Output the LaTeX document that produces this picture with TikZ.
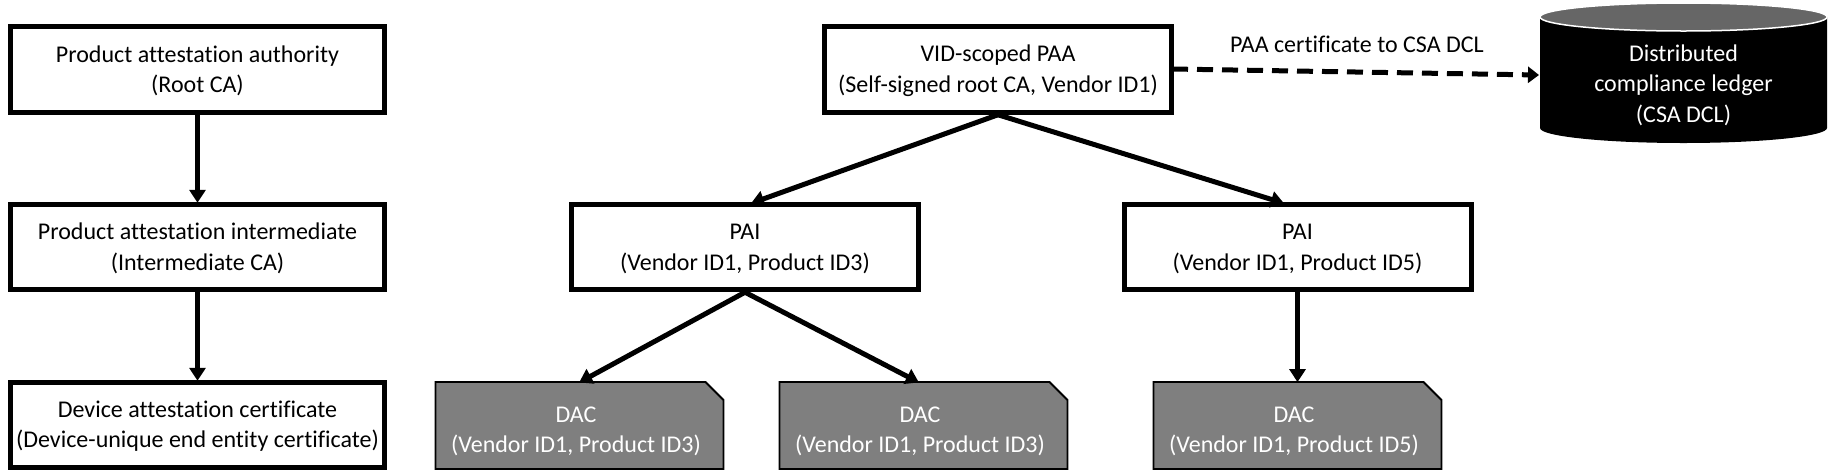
\documentclass[tikz,border=0pt]{standalone}
\usepackage{fontspec}
\setmainfont[Ligatures=NoCommon]{Carlito}
\usetikzlibrary{arrows.meta,shapes.misc}
\newcommand{\certup}{\rule{0pt}{19pt}}
\newcommand{\dacup}{\rule{0pt}{27pt}}
\newcommand{\dacpad}{\rule{7pt}{0pt}}
\tikzset{
  every node/.style={font=\fontsize{24}{30.5}\selectfont,align=center,inner sep=0pt},
  certbox/.style={draw=black,fill=white,line width=5pt,rectangle,minimum height=85.5pt},
  dacbox/.style={draw=black,fill=dacgray,line width=1.8pt,text=white,chamfered rectangle,
    chamfered rectangle corners=north east,chamfered rectangle sep=9pt,
    minimum width=288pt,minimum height=87pt},
  link/.style={line width=5pt,-{Triangle[length=13pt,width=16pt]},shorten >=-1pt},
  dashlink/.style={line width=5pt,dash pattern=on 16pt off 9pt,-{Triangle[length=11pt,width=16pt]}}
}
\definecolor{dacgray}{HTML}{7F7F7F}
\definecolor{topgray}{HTML}{666666}
\begin{document}
\begin{tikzpicture}[x=1pt,y=-1pt]
\useasboundingbox (0,0) rectangle (1828,472);
\node[certbox,minimum width=374pt] (pa) at (197.5,69.5) {\certup Product attestation authority\\(Root CA)};
\node[certbox,minimum width=374pt] (pi) at (197.5,247) {\certup Product attestation intermediate\\(Intermediate CA)};
\node[certbox,minimum width=374pt] (da) at (197.5,425) {\certup Device attestation certificate\\(Device-unique end entity certificate)};
\node[certbox,minimum width=347pt] (vid) at (998,69.5) {\certup VID-scoped PAA\\(Self-signed root CA, Vendor ID1)};
\node[certbox,minimum width=347pt] (pai1) at (745,247) {\certup PAI\\(Vendor ID1, Product ID3)};
\node[certbox,minimum width=347pt] (pai2) at (1297.5,247) {\certup PAI\\(Vendor ID1, Product ID5)};
\node[dacbox] (dac1) at (579.5,425.5) {\dacup DAC\dacpad\\(Vendor ID1, Product ID3)\dacpad};
\node[dacbox] (dac2) at (923.5,425.5) {\dacup DAC\dacpad\\(Vendor ID1, Product ID3)\dacpad};
\node[dacbox] (dac3) at (1297.5,425.5) {\dacup DAC\dacpad\\(Vendor ID1, Product ID5)\dacpad};
% cylinder
\fill[black] (1540,17) -- (1540,128) arc[start angle=180,end angle=0,x radius=143.5,y radius=15] -- (1827,17) -- cycle;
\draw[white,line width=1.5pt,fill=topgray] (1683.5,17) ellipse[x radius=143.5,y radius=14];
\node[text=white] (dcl) at (1683.5,85) {Distributed\\compliance ledger\\(CSA DCL)};
\coordinate (dclin) at (1539,75);
\coordinate (vidout) at (1172,69);
\coordinate (pai1in) at (752,203);
\coordinate (pai2in) at (1283,203);
\coordinate (dac1in) at (580,382);
\coordinate (dac2in) at (918,382);
\draw[link] (pa.south) -- (pi.north);
\draw[link] (pi.south) -- (da.north);
\draw[link] (vid.south) -- (pai1in);
\draw[link] (vid.south) -- (pai2in);
\draw[link] (pai1.south) -- (dac1in);
\draw[link] (pai1.south) -- (dac2in);
\draw[link] (pai2.south) -- (dac3.north);
\draw[dashlink] (vidout) -- (dclin);
\node (lbl) at (1357,44) {PAA certificate to CSA DCL};
\end{tikzpicture}
\end{document}
